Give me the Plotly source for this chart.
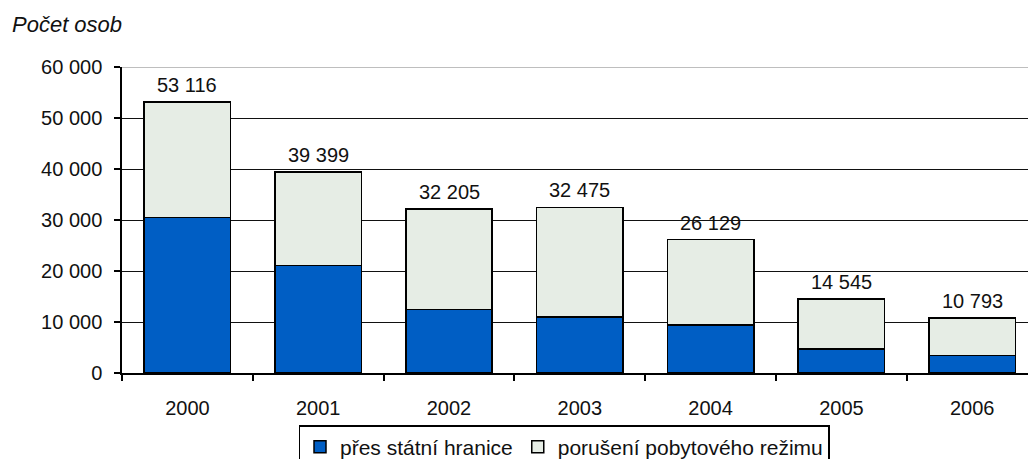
import plotly.graph_objects as go

years = ["2000", "2001", "2002", "2003", "2004", "2005", "2006"]
border = [30500, 21100, 12500, 11000, 9400, 4700, 3450]
totals = [53116, 39399, 32205, 32475, 26129, 14545, 10793]
stay = [t - b for t, b in zip(totals, border)]
total_labels = ["53 116", "39 399", "32 205", "32 475", "26 129", "14 545", "10 793"]
y_ticks = [0, 10000, 20000, 30000, 40000, 50000, 60000]
y_ticktext = ["0", "10 000", "20 000", "30 000", "40 000", "50 000", "60 000"]

FONT = "Liberation Sans, Arial, sans-serif"
W, H = 1028, 459
ml, mr, mt, mb = 122, 0, 67, 86
pw = W - ml - mr
ph = H - mt - mb
cat_w = 130.8
x_max = -0.5 + pw / cat_w

fig = go.Figure()
fig.add_trace(go.Bar(
    x=years, y=border, name="přes státní hranice",
    marker=dict(color="#005EC4", line=dict(color="#000000", width=1.5)),
    width=0.66,
))
fig.add_trace(go.Bar(
    x=years, y=stay, name="porušení pobytového režimu",
    marker=dict(color="#E6EDE5", line=dict(color="#000000", width=1.5)),
    width=0.66,
))

annotations = [
    dict(x=i, y=t, text=lab, xref="x", yref="y", xanchor="center", yanchor="bottom",
         yshift=4, showarrow=False, font=dict(family=FONT, size=20, color="#111"))
    for i, (t, lab) in enumerate(zip(totals, total_labels))
]
annotations.append(dict(
    text="<i>Počet osob</i>", xref="paper", yref="paper",
    x=(10 - ml) / pw, y=(H - mb - 24) / ph,
    xanchor="left", yanchor="middle", showarrow=False,
    font=dict(family=FONT, size=22, color="#111"),
))

fig.add_shape(type="line", xref="paper", yref="y", x0=0, x1=1, y0=60000, y1=60000,
              line=dict(color="#a8a8a8", width=1.5), layer="below")

fig.update_layout(
    width=W, height=H, autosize=False,
    margin=dict(l=ml, r=mr, t=mt, b=mb, autoexpand=False),
    barmode="stack", bargap=0.34,
    plot_bgcolor="white", paper_bgcolor="white",
    font=dict(family=FONT, size=20, color="#111"),
    showlegend=True,
    legend=dict(
        orientation="h", x=(564 - ml) / pw, xanchor="center",
        y=-52 / ph, yanchor="top",
        bordercolor="#000", borderwidth=1.5,
        font=dict(family=FONT, size=21, color="#111"),
        traceorder="normal", itemwidth=30,
    ),
    xaxis=dict(
        type="category", range=[-0.5, x_max], showgrid=False, automargin=False,
        showline=True, linecolor="#000", linewidth=1.5,
        ticks="outside", tickson="boundaries", ticklen=6, tickcolor="#000", tickwidth=1.5,
        ticklabelstandoff=16, zeroline=False,
    ),
    yaxis=dict(
        range=[0, 60000], tickvals=y_ticks, ticktext=y_ticktext, automargin=False,
        showgrid=True, gridcolor="#111", gridwidth=1.3,
        showline=True, linecolor="#000", linewidth=1.5,
        ticks="outside", ticklen=6, tickcolor="#000", tickwidth=1.5,
        ticklabelstandoff=8, zeroline=False,
    ),
    annotations=annotations,
)

fig.write_html("out.html", config={"displayModeBar": False},
               post_script="document.body.style.margin='0px';")
